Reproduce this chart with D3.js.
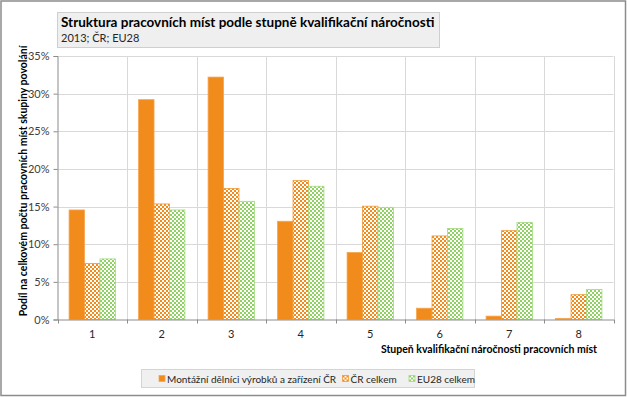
<!DOCTYPE html>
<html>
<head>
<meta charset="utf-8">
<script src="https://cdn.jsdelivr.net/npm/d3@7"></script>
<style>
  body { margin: 0; background: #fff; }
  svg { display: block; font-family: Lato, 'Liberation Sans', sans-serif; }
</style>
</head>
<body>
<svg id="chart" width="627" height="397"></svg>
<script>
// data (percent)
const categories = ['1', '2', '3', '4', '5', '6', '7', '8'];
const seriesNames = ['Montážní dělníci výrobků a zařízení ČR', 'ČR celkem', 'EU28 celkem'];
const montazni = [14.55, 29.2, 32.2, 13.05, 8.9, 1.5, 0.45, 0.15];
const crCelkem = [7.43, 15.35, 17.4, 18.45, 15.05, 11.1, 11.8, 3.3];
const eu28Celkem = [8.05, 14.55, 15.7, 17.7, 14.9, 12.1, 12.9, 4.0];
const yTicks = [0, 5, 10, 15, 20, 25, 30, 35];

const orange = '#f18b1c';
const green = '#8fd163';

const svg = d3.select('#chart');
const plot = { left: 57.5, right: 613.5, top: 56, bottom: 319.5 };

// outer frame
svg.append('rect')
  .attr('x', 1).attr('y', 1).attr('width', 624.5).attr('height', 394.5)
  .attr('fill', '#fff').attr('stroke', '#8c8c8c').attr('stroke-width', 1.5);

// patterns for the checker fills
const defs = svg.append('defs');
function checker(id, color) {
  const p = defs.append('pattern')
    .attr('id', id).attr('patternUnits', 'userSpaceOnUse')
    .attr('width', 4).attr('height', 4);
  p.append('rect').attr('width', 4).attr('height', 4).attr('fill', '#fff');
  p.append('rect').attr('width', 2).attr('height', 2).attr('fill', color);
  p.append('rect').attr('x', 2).attr('y', 2).attr('width', 2).attr('height', 2).attr('fill', color);
}
checker('chk-orange', orange);
checker('chk-green', green);

const series = [
  { name: seriesNames[0], values: montazni, fill: orange, stroke: '#f5a54f' },
  { name: seriesNames[1], values: crCelkem, fill: 'url(#chk-orange)', stroke: '#f29a3a' },
  { name: seriesNames[2], values: eu28Celkem, fill: 'url(#chk-green)', stroke: '#a4db82' }
];

const x = d3.scaleBand().domain(categories).range([plot.left, plot.right]).padding(0);
const y = d3.scaleLinear().domain([0, 35]).range([plot.bottom, plot.top]);
const barW = x.bandwidth() / 4.5;
const barOff = barW * 0.75;

// horizontal grid
svg.append('g')
  .selectAll('line')
  .data(yTicks.slice(1))
  .join('line')
  .attr('x1', plot.left).attr('x2', plot.right)
  .attr('y1', d => Math.round(y(d)) + 0.5).attr('y2', d => Math.round(y(d)) + 0.5)
  .attr('stroke', '#d9d9d9');

// vertical grid at category boundaries
const bounds = categories.map(c => x(c)).concat([plot.right]);
svg.append('g')
  .selectAll('line')
  .data(bounds.slice(1))
  .join('line')
  .attr('x1', d => Math.round(d) + 0.5).attr('x2', d => Math.round(d) + 0.5)
  .attr('y1', plot.top).attr('y2', plot.bottom)
  .attr('stroke', '#d9d9d9');

// bars
series.forEach((s, si) => {
  svg.append('g')
    .selectAll('rect')
    .data(s.values)
    .join('rect')
    .attr('x', (d, i) => x(categories[i]) + barOff + si * barW)
    .attr('y', d => y(d))
    .attr('width', barW)
    .attr('height', d => y(0) - y(d))
    .attr('fill', s.fill)
    .attr('stroke', s.stroke)
    .attr('stroke-width', 0.8);
});

// y axis
const yAxis = svg.append('g')
  .attr('transform', `translate(${plot.left},0)`)
  .call(d3.axisLeft(y).tickValues(yTicks).tickFormat(d => d + '%').tickSize(4).tickPadding(4));
yAxis.select('.domain').attr('stroke', '#8c8c8c');
yAxis.selectAll('.tick line').attr('stroke', '#8c8c8c');
yAxis.selectAll('.tick text')
  .attr('fill', '#404040').style('font-size', '11px').style('font-family', 'Lato, sans-serif');

// x axis: labels centred, ticks at boundaries
const xAxis = svg.append('g')
  .attr('transform', `translate(0,${plot.bottom})`)
  .call(d3.axisBottom(x).tickSize(0).tickPadding(11));
xAxis.select('.domain').attr('stroke', '#8c8c8c');
xAxis.selectAll('.tick text')
  .attr('fill', '#262626').style('font-size', '11px').style('font-family', 'Lato, sans-serif');
xAxis.selectAll('.bound')
  .data(bounds)
  .join('line')
  .attr('class', 'bound')
  .attr('x1', d => Math.round(d) + 0.5).attr('x2', d => Math.round(d) + 0.5)
  .attr('y1', 0).attr('y2', 4)
  .attr('stroke', '#8c8c8c');

// axis titles
svg.append('text')
  .attr('x', 597).attr('y', 353)
  .attr('text-anchor', 'end')
  .attr('font-weight', 'bold').attr('font-size', 10.5).attr('fill', '#000')
  .text('Stupeň kvalifikační náročnosti pracovních míst');

svg.append('text')
  .attr('transform', 'translate(27,181) rotate(-90)')
  .attr('text-anchor', 'middle')
  .attr('font-weight', 'bold').attr('font-size', 10.5).attr('fill', '#000')
  .text('Podíl na celkovém počtu pracovních míst skupiny povolání');

// title box
svg.append('rect')
  .attr('x', 57.5).attr('y', 12.5).attr('width', 382).attr('height', 35)
  .attr('fill', '#efefef').attr('stroke', '#cfcfcf');
svg.append('text')
  .attr('x', 61).attr('y', 27)
  .attr('font-weight', 'bold').attr('font-size', 13.5).attr('fill', '#000')
  .text('Struktura pracovních míst podle stupně kvalifikační náročnosti');
svg.append('text')
  .attr('x', 61).attr('y', 42)
  .attr('font-size', 11).attr('fill', '#262626')
  .text('2013; ČR; EU28');

// legend
const legend = svg.append('g');
legend.append('rect')
  .attr('x', 141.5).attr('y', 369.5).attr('width', 333).attr('height', 18)
  .attr('fill', '#f0f0f0').attr('stroke', '#d4d4d4');
const legendX = [159, 342.5, 409];
const items = legend.selectAll('g.item')
  .data(series)
  .join('g')
  .attr('class', 'item')
  .attr('transform', (d, i) => `translate(${legendX[i]},375.5)`);
items.append('rect')
  .attr('width', 6).attr('height', 6)
  .attr('fill', d => d.fill).attr('stroke', d => d.stroke).attr('stroke-width', 0.8);
items.append('text')
  .attr('x', 8).attr('y', 7.5)
  .attr('font-size', 10).attr('fill', '#262626')
  .text(d => d.name);
</script>
</body>
</html>
